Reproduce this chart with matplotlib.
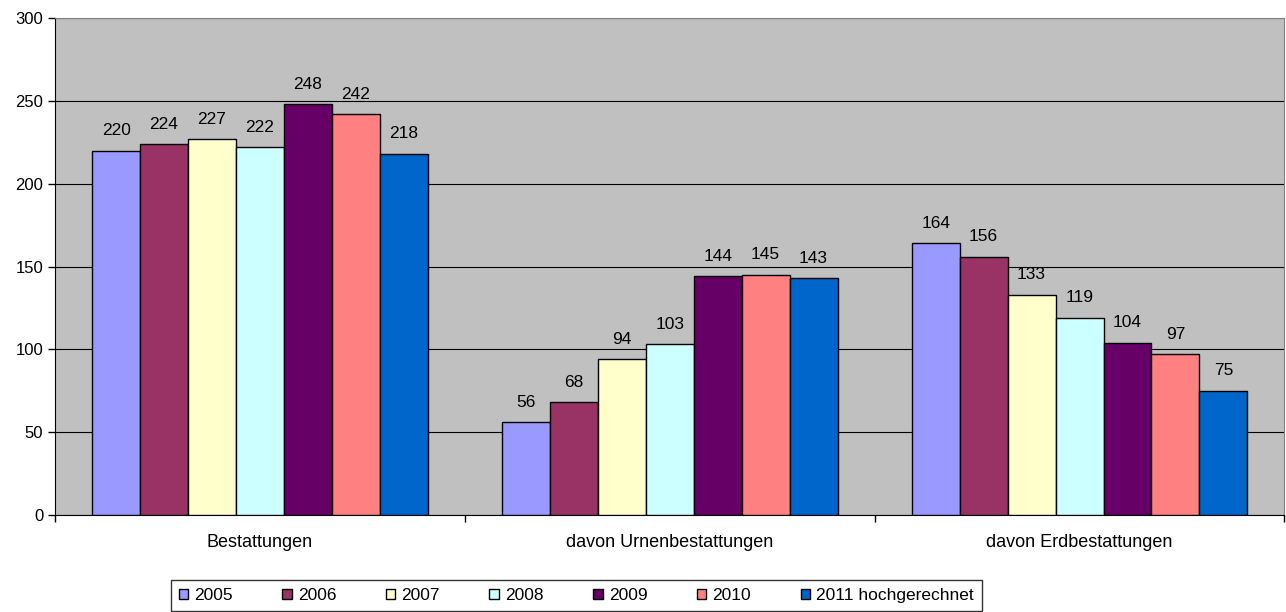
import matplotlib.pyplot as plt
import numpy as np

plt.rcParams['font.family'] = ['Liberation Sans', 'DejaVu Sans']

# Daten
kategorien = ['Bestattungen', 'davon Urnenbestattungen', 'davon Erdbestattungen']
jahre = ['2005', '2006', '2007', '2008', '2009', '2010', '2011 hochgerechnet']
werte_2005 = [220, 56, 164]
werte_2006 = [224, 68, 156]
werte_2007 = [227, 94, 133]
werte_2008 = [222, 103, 119]
werte_2009 = [248, 144, 104]
werte_2010 = [242, 145, 97]
werte_2011 = [218, 143, 75]
farben = ['#9999FF', '#993366', '#FFFFCC', '#CCFFFF', '#660066', '#FF8080', '#0066CC']

serien = [werte_2005, werte_2006, werte_2007, werte_2008, werte_2009, werte_2010, werte_2011]

fig = plt.figure(figsize=(12.86, 6.12), dpi=100)
ax = fig.add_axes([0.0428, 0.1585, 0.956, 0.812])
ax.set_facecolor('#C0C0C0')

x = np.arange(len(kategorien))
breite = 0.117
for i, (werte, farbe, jahr) in enumerate(zip(serien, farben, jahre)):
    pos = x + (i - 3) * breite
    ax.bar(pos, werte, breite, color=farbe, edgecolor='black', linewidth=1, label=jahr, zorder=3)
    for px, v in zip(pos, werte):
        ax.text(px, v + 7.5, str(v), ha='center', va='bottom', fontsize=12.5, zorder=4)

ax.set_ylim(0, 300)
ax.set_xlim(-0.5, 2.5)
ax.set_yticks(range(0, 301, 50))
ax.tick_params(axis='y', labelsize=12, length=5, width=1)
ax.yaxis.grid(True, color='black', linewidth=0.8, zorder=0)

ax.set_xticks(x)
ax.set_xticklabels(kategorien, fontsize=13)
ax.tick_params(axis='x', which='major', length=0, pad=14)
ax.set_xticks([-0.5, 0.5, 1.5, 2.5], minor=True)
ax.tick_params(axis='x', which='minor', length=5, width=1)

for s in ['top', 'right']:
    ax.spines[s].set_color('#808080')
ax.spines['left'].set_color('black')
ax.spines['bottom'].set_color('black')

leg = fig.legend(loc='center', bbox_to_anchor=(0.448, 0.027), ncol=7, fontsize=12.5,
                 frameon=True, fancybox=False, edgecolor='black', handlelength=0.55,
                 handleheight=0.55, handletextpad=0.35, columnspacing=2.85, borderpad=0.45)
leg.get_frame().set_linewidth(1)

fig.savefig('out.png', dpi=100)
